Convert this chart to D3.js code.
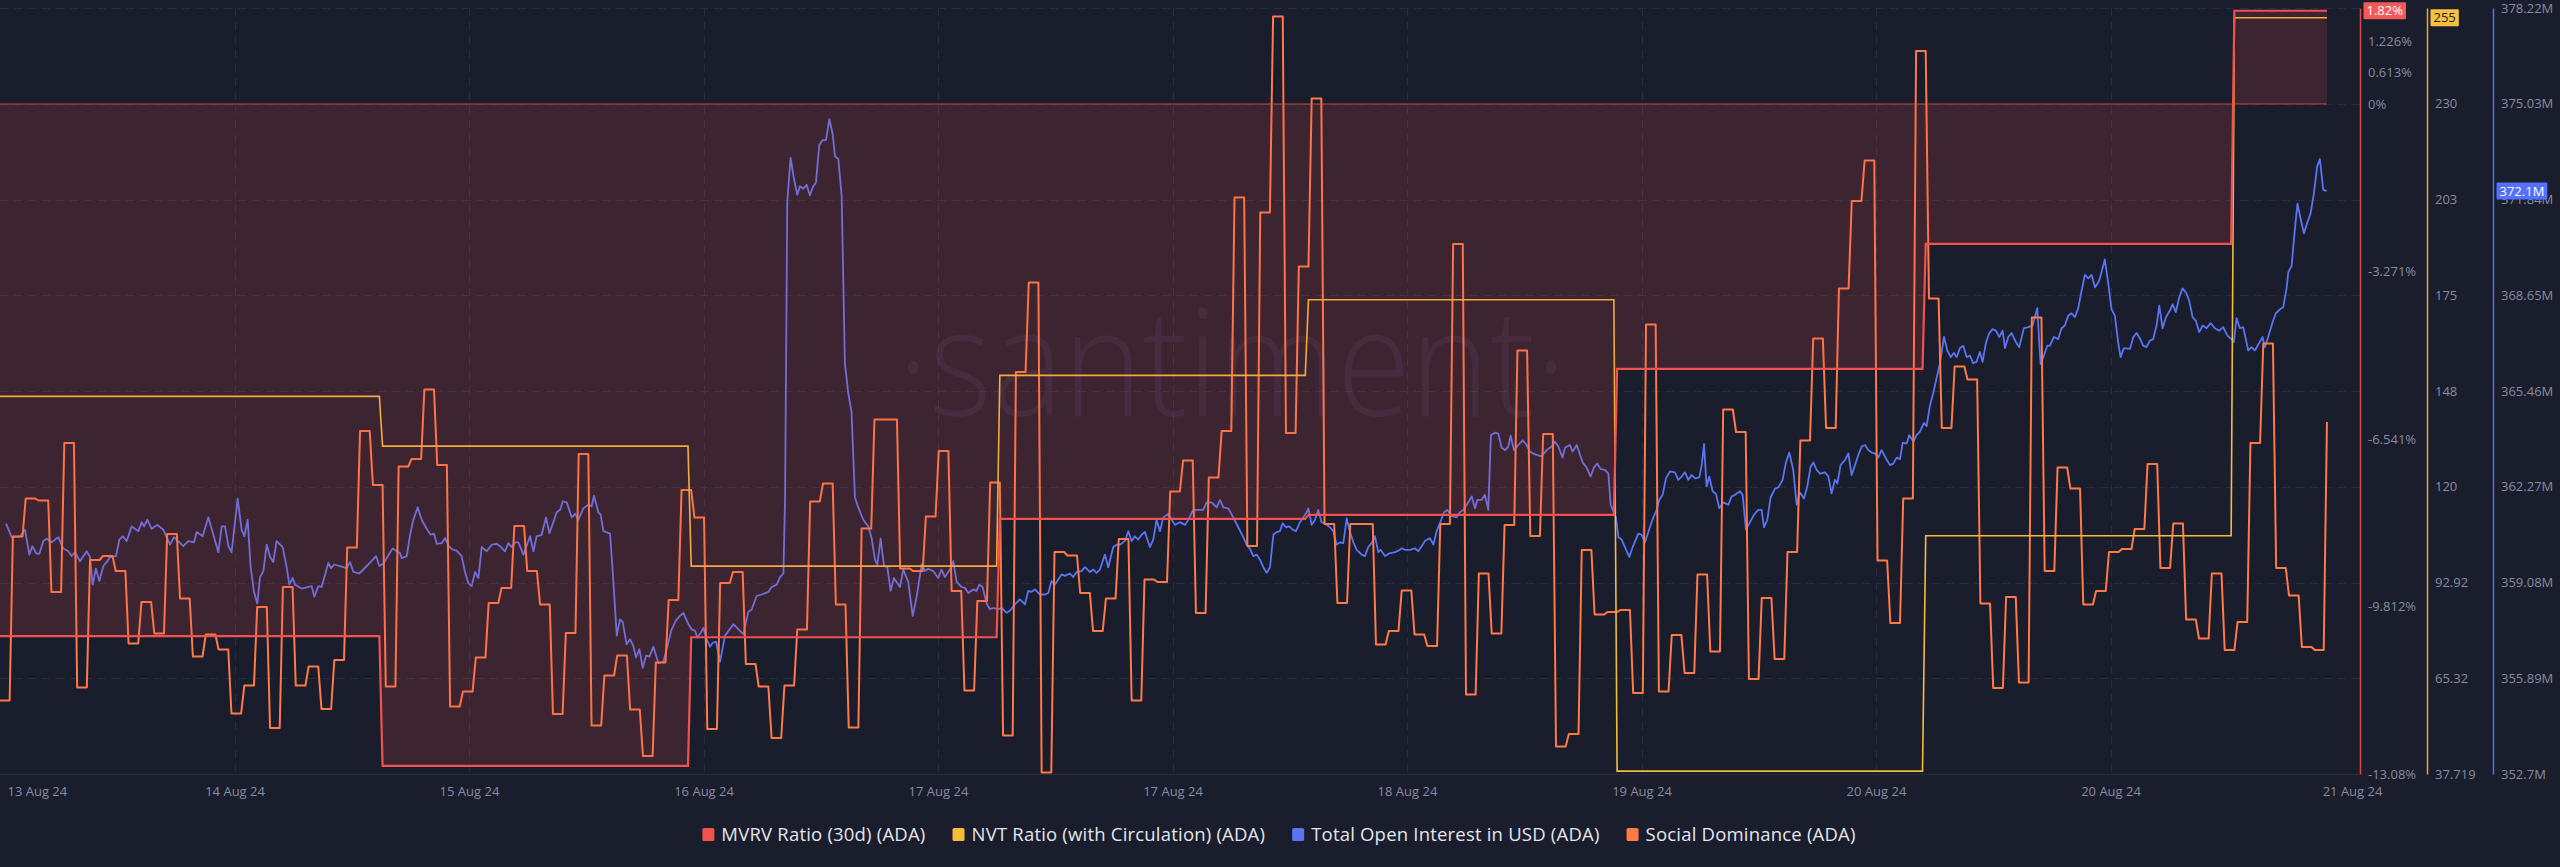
<!DOCTYPE html>
<html><head><meta charset="utf-8">
<script src="https://cdn.jsdelivr.net/npm/d3@7"></script>
<style>
html,body{margin:0;padding:0;background:#1a1d2c;}
svg{display:block;font-family:"Open Sans",sans-serif;}
</style></head><body>
<svg id="chart" width="2560" height="867"></svg>
<script>
// ---------------- DATA ----------------
const xTickLabels = ["13 Aug 24","14 Aug 24","15 Aug 24","16 Aug 24","17 Aug 24","17 Aug 24","18 Aug 24","19 Aug 24","20 Aug 24","20 Aug 24","21 Aug 24"];
const xTickHours = [0, 18.24, 36.47, 54.71, 72.94, 91.18, 109.41, 127.65, 145.88, 164.12, 182.9];
const endHour = 180.95;

// daily series (start hour of each day segment)
const dayStartHours = [0, 29.75, 53.75, 77.75, 101.75, 125.75, 149.75, 173.75];
const mvrvValues = [-10.39, -12.92, -10.41, -8.10, -8.02, -5.17, -2.73, 1.82];
const nvtValues = [146.58, 132.22, 97.64, 152.61, 174.41, 38.56, 106.41, 255.7];

// hourly social dominance (%), one value per hour from hour 0
const socialValues = [
0.247,0.575,0.651,0.647,0.464,0.762,0.273,0.528,0.536,0.506,
0.361,0.444,0.381,0.580,0.451,0.335,0.379,0.349,0.221,0.277,
0.434,0.192,0.474,0.277,0.315,0.230,0.328,0.553,0.786,0.678,
0.275,0.715,0.730,0.869,0.718,0.235,0.265,0.333,0.442,0.472,
0.596,0.506,0.439,0.220,0.382,0.740,0.197,0.297,0.337,0.229,
0.136,0.323,0.448,0.668,0.613,0.190,0.482,0.504,0.320,0.275,
0.172,0.277,0.389,0.645,0.681,0.439,0.193,0.591,0.809,0.809,
0.511,0.506,0.615,0.746,0.466,0.267,0.446,0.683,0.177,0.904,
1.083,0.103,0.544,0.537,0.462,0.386,0.451,0.570,0.247,0.489,
0.484,0.665,0.727,0.422,0.693,0.786,1.253,0.556,1.223,1.615,
0.782,1.115,1.451,0.600,0.442,0.600,0.600,0.359,0.386,0.467,
0.379,0.356,0.600,1.160,0.259,0.501,0.381,0.598,0.947,0.576,
0.780,0.155,0.180,0.548,0.419,0.424,0.428,0.262,0.999,0.265,
0.378,0.302,0.499,0.345,0.829,0.784,0.290,0.452,0.330,0.544,
0.767,0.971,0.792,1.071,1.246,1.327,0.527,0.402,0.651,1.546,
1.051,0.792,0.915,0.889,0.441,0.272,0.454,0.283,1.013,0.506,
0.713,0.671,0.439,0.466,0.544,0.550,0.590,0.720,0.512,0.601,
0.409,0.371,0.501,0.348,0.404,0.762,0.961,0.512,0.457,0.354,
0.348,0.804];

// total open interest (USD millions)
const oiHours = [
0.47,0.91,1.56,1.94,2.28,2.51,2.85,3.06,3.37,3.63,4.02,4.54,4.92,5.31,5.57,5.83,6.22,6.74,7.00,7.21,
7.46,7.72,8.04,8.35,8.55,9.02,9.28,9.54,9.85,10.24,10.76,11.02,11.20,11.46,11.79,12.23,12.70,13.22,13.53,14.26,
14.64,15.09,15.29,15.76,16.20,16.98,17.24,17.50,17.76,18.01,18.48,18.79,19.00,19.26,19.49,19.75,20.01,20.22,20.48,20.74,
21.00,21.25,21.51,21.98,22.29,22.50,22.76,22.94,23.46,24.24,24.44,24.75,25.01,25.53,25.74,26.00,26.96,27.22,27.48,27.94,
28.64,29.24,29.50,29.81,30.53,31.10,31.24,31.63,31.89,32.14,32.48,32.79,33.18,33.49,33.75,33.96,34.35,34.61,34.94,35.25,
35.51,35.90,36.16,36.42,36.68,36.94,37.20,37.46,37.85,38.24,38.62,38.88,39.27,39.53,39.79,40.05,40.31,40.70,41.22,41.48,
41.73,42.12,42.46,42.72,43.03,43.29,43.55,43.76,44.07,44.46,44.72,44.97,45.36,45.75,46.01,46.19,46.53,46.71,46.92,47.44,
47.70,47.96,48.21,48.42,48.73,48.99,49.25,49.46,49.72,49.98,50.24,50.50,50.81,51.20,51.58,51.84,52.23,52.57,52.88,53.14,
53.53,53.79,54.05,54.23,54.49,54.70,54.95,55.21,55.42,55.68,55.99,56.38,57.03,57.42,57.81,58.19,58.45,58.84,59.23,59.75,
60.01,60.40,60.66,60.92,61.05,61.22,61.48,61.74,62.00,62.21,62.46,62.72,62.98,63.24,63.45,63.71,63.97,64.23,64.49,64.75,
64.93,65.19,65.45,65.70,65.96,66.22,66.48,66.74,67.13,67.52,67.78,68.04,68.22,68.48,68.74,69.00,69.26,69.51,69.98,70.24,
70.63,70.97,71.28,71.67,71.93,72.18,72.57,72.96,73.22,73.48,73.87,74.13,74.39,74.78,75.04,75.30,75.68,75.94,76.15,76.41,
76.72,76.98,77.24,77.63,77.89,78.28,78.53,78.92,79.31,79.70,79.96,80.22,80.48,80.87,81.26,81.52,81.77,82.03,82.29,82.55,
82.81,83.20,83.46,83.72,84.11,84.37,84.76,85.02,85.27,85.53,85.92,86.18,86.57,86.83,87.09,87.48,87.74,88.00,88.25,88.51,
88.77,89.03,89.42,89.68,89.94,90.20,90.46,90.85,91.11,91.37,91.75,92.15,92.41,92.79,93.18,93.57,93.83,94.22,94.61,94.87,
95.13,95.52,95.90,96.29,96.68,96.94,97.20,97.46,97.72,97.98,98.24,98.50,98.76,99.02,99.27,99.53,99.74,100.00,100.26,100.52,
100.78,101.09,101.35,101.61,101.74,102.00,102.26,102.51,102.77,103.03,103.42,103.68,103.94,104.20,104.46,104.72,104.93,105.24,105.50,105.88,
106.14,106.40,106.66,106.92,107.18,107.36,107.70,108.09,108.48,108.74,109.00,109.25,109.64,110.03,110.29,110.55,110.81,111.20,111.46,111.72,
112.03,112.29,112.55,112.88,113.27,113.53,113.79,114.18,114.44,114.70,114.88,115.22,115.47,115.73,115.94,116.25,116.51,116.77,117.03,117.29,
117.47,117.73,118.07,118.40,118.71,118.97,119.23,119.49,119.88,120.27,120.66,120.92,121.18,121.51,121.70,122.08,122.29,122.61,122.81,123.07,
123.38,123.69,123.95,124.21,124.47,124.81,125.07,125.25,125.46,125.66,125.85,126.10,126.36,126.70,126.96,127.40,127.66,127.92,128.26,128.57,
128.83,129.03,129.29,129.55,129.86,130.25,130.51,130.77,131.03,131.29,131.55,131.81,132.14,132.33,132.51,132.71,132.92,133.18,133.44,133.70,
134.01,134.40,134.66,134.92,135.31,135.51,135.77,136.08,136.40,136.73,136.99,137.17,137.43,137.69,138.03,138.29,138.62,138.88,139.14,139.45,
139.71,139.97,140.28,140.54,140.80,141.01,141.27,141.53,141.92,142.18,142.43,142.69,142.88,143.13,143.47,143.73,143.99,144.25,144.51,144.77,
145.03,145.29,145.55,145.80,146.06,146.32,146.66,146.97,147.23,147.49,147.75,147.96,148.27,148.47,148.79,149.04,149.30,149.61,149.82,150.08,
150.34,150.60,150.86,151.17,151.43,151.69,151.95,152.15,152.41,152.67,152.93,153.19,153.44,153.70,153.96,154.17,154.43,154.69,154.95,155.21,
155.47,155.73,155.91,156.17,156.43,156.76,157.02,157.38,157.72,158.06,158.42,158.68,158.94,159.20,159.41,159.72,160.05,160.31,160.57,160.83,
161.09,161.35,161.61,161.87,162.13,162.39,162.65,162.91,163.24,163.68,163.94,164.20,164.46,164.72,164.90,165.16,165.63,165.89,166.15,166.40,
166.66,166.92,167.18,167.44,167.70,167.91,168.17,168.43,168.74,168.95,169.20,169.46,169.72,169.98,170.24,170.50,170.76,171.02,171.28,171.59,
171.90,172.24,172.57,172.88,173.20,173.53,173.71,173.92,174.18,174.44,174.83,175.09,175.35,175.68,175.94,176.12,176.38,176.72,176.98,177.29,
177.55,177.81,177.94,178.20,178.46,178.66,178.90,179.16,179.42,179.67,179.93,180.19,180.40,180.66,180.92];
const oiValues = [
361.04,360.59,360.62,360.84,360.01,360.29,360.04,360.04,360.46,360.54,360.42,360.59,360.21,360.12,359.96,360.09,359.79,360.12,359.93,359.01,
359.54,359.13,359.63,359.79,359.93,359.96,360.51,360.62,360.46,360.95,360.79,361.09,360.95,361.17,360.87,361.00,360.84,360.34,360.59,360.29,
360.46,360.42,360.76,360.62,361.25,360.09,360.95,360.95,360.29,360.09,361.87,360.84,360.62,361.17,359.59,358.77,358.38,359.26,359.46,360.34,
359.93,359.76,360.46,360.26,359.59,359.01,359.23,359.01,358.88,358.96,358.60,358.96,358.93,359.73,359.56,359.68,359.56,359.76,359.43,359.38,
359.68,359.96,359.63,359.71,360.21,360.06,359.89,359.96,360.67,361.17,361.58,361.17,360.87,360.67,360.71,360.37,360.39,360.56,360.26,360.17,
360.14,359.96,359.43,359.06,358.96,359.43,359.23,360.26,360.12,360.34,360.37,360.29,360.12,360.39,360.26,360.42,360.42,360.01,360.62,360.12,
360.62,360.67,361.25,360.72,361.09,361.42,361.50,361.78,361.75,361.25,361.37,361.17,361.55,361.67,361.62,361.97,361.42,361.34,360.79,360.71,
359.10,357.31,357.85,357.77,357.02,357.19,356.97,356.58,356.86,356.24,356.64,356.61,356.94,356.39,356.44,356.86,357.52,357.82,357.97,358.07,
357.69,357.52,357.47,357.24,357.41,357.57,357.19,356.94,357.07,357.11,356.44,357.31,357.69,357.52,357.36,358.10,358.18,358.63,358.68,358.77,
358.93,359.01,359.26,359.38,361.92,371.78,373.23,372.53,372.00,372.28,372.20,372.33,371.98,372.28,372.40,373.66,373.82,373.82,374.52,374.02,
373.28,373.19,371.95,366.39,365.40,364.74,361.92,361.58,361.17,360.95,360.56,359.84,359.68,360.54,359.63,359.59,358.80,359.23,358.93,359.51,
359.10,357.97,358.60,359.68,359.46,359.54,359.46,359.23,359.51,359.26,359.51,359.79,359.10,358.93,358.90,358.73,358.85,358.80,359.01,358.93,
358.38,358.19,358.23,358.19,358.23,358.07,358.14,358.35,358.52,358.35,358.80,358.77,358.85,358.68,358.68,358.73,359.13,359.01,359.18,359.35,
359.30,359.38,359.26,359.43,359.46,359.59,359.43,359.51,359.40,359.51,360.01,359.59,360.26,360.34,360.34,360.46,360.79,360.46,360.62,360.51,
360.67,360.76,360.26,360.51,361.17,360.79,361.25,361.37,361.17,361.00,361.09,361.00,361.17,361.50,361.50,361.50,361.75,361.75,361.58,361.83,
361.58,361.55,361.25,360.92,360.59,360.34,360.21,359.96,360.01,359.84,359.59,359.40,359.59,360.67,360.76,360.79,361.05,360.92,360.95,360.84,
360.79,361.09,361.25,361.42,361.55,361.00,361.17,361.50,361.09,361.05,360.92,360.79,360.34,360.42,360.39,361.22,360.84,360.42,360.17,360.01,
359.96,360.26,360.39,360.62,360.09,360.17,359.96,360.06,360.09,360.14,360.22,360.17,360.17,360.22,360.12,360.29,360.46,360.56,360.34,360.79,
361.12,361.42,361.50,361.29,361.25,361.42,361.50,361.75,361.95,361.55,361.83,361.83,362.00,361.50,363.99,364.07,364.04,363.57,363.49,363.61,
363.97,363.49,363.66,363.82,363.66,363.44,363.38,363.33,363.28,363.49,363.61,363.77,363.61,363.24,363.57,363.66,363.44,363.66,363.41,363.08,
362.91,362.61,362.91,363.04,362.86,362.83,362.71,361.67,361.45,361.25,360.59,360.51,360.26,359.93,360.26,360.71,360.67,360.42,360.87,361.25,
361.50,361.83,362.00,362.55,362.78,362.75,362.50,362.61,362.75,362.50,362.66,362.55,362.58,362.99,363.69,362.28,362.61,362.12,362.03,361.55,
361.75,361.67,361.95,362.00,362.12,362.00,360.84,361.09,361.34,361.50,361.50,360.92,361.17,361.92,362.21,362.25,362.50,363.08,363.41,362.83,
361.67,362.08,361.88,362.28,362.94,363.08,362.83,362.71,362.75,362.61,362.05,362.50,362.38,362.99,363.16,363.38,362.66,362.99,363.33,363.61,
363.66,363.49,363.41,363.38,363.24,363.49,363.21,362.99,363.04,363.24,363.19,363.74,363.71,363.99,363.77,363.99,364.11,364.40,364.29,364.98,
365.40,365.90,366.39,367.26,366.81,366.59,366.73,366.59,366.89,366.97,366.59,366.64,366.39,366.43,366.76,366.43,367.06,367.39,367.52,367.47,
367.26,367.47,366.89,367.26,367.39,367.09,366.92,367.55,367.59,367.64,368.22,366.36,366.64,366.97,366.97,367.26,367.19,367.55,367.64,367.97,
368.05,367.92,368.22,368.80,369.33,369.21,369.33,368.91,369.13,369.84,369.05,368.18,367.97,367.06,366.59,366.89,366.86,367.26,367.39,367.22,
366.97,366.92,367.14,367.19,367.64,368.30,367.55,367.92,368.14,368.35,368.09,368.58,368.88,368.75,368.47,367.92,367.80,367.42,367.64,367.55,
367.72,367.55,367.47,367.59,367.31,367.19,367.09,367.89,367.55,367.59,366.81,366.92,366.81,367.06,367.26,366.92,367.26,367.75,368.05,368.18,
368.25,368.88,369.41,369.63,370.87,371.70,371.20,370.71,371.07,371.37,372.03,372.94,373.19,372.17,372.12];

// axis ticks (the top MVRV and NVT ticks sit under the last-value badges, so they carry no label)
const mvrvTicks = [1.839, 1.226, 0.613, 0, -3.271, -6.541, -9.812, -13.08];
const mvrvTickLabels = ["","1.226%","0.613%","0%","-3.271%","-6.541%","-9.812%","-13.08%"];
const nvtTicks = [258.52, 230.92, 203.32, 175.72, 148.12, 120.52, 92.92, 65.32, 37.719];
const nvtTickLabels = ["","230","203","175","148","120","92.92","65.32","37.719"];
const oiTicks = [378.22, 375.03, 371.84, 368.65, 365.46, 362.27, 359.08, 355.89, 352.7];
const oiTickLabels = ["378.22M","375.03M","371.84M","368.65M","365.46M","362.27M","359.08M","355.89M","352.7M"];

const legendNames = ["MVRV Ratio (30d) (ADA)","NVT Ratio (with Circulation) (ADA)","Total Open Interest in USD (ADA)","Social Dominance (ADA)"];
const seriesColors = ["#f0524f","#f5bb3a","#5a74f2","#ff7a45"];
const badgeLabels = ["1.82%","255","372.1M"];

// ---------------- CHART ----------------
(function () {
const svg = d3.select("#chart");
const plotTop = 8, plotBottom = 774, plotRight = 2360;
const axisX = [2360, 2427, 2493];

const x = d3.scaleLinear().domain([0, 183.52]).range([0, plotRight]);
const yMvrv = d3.scaleLinear().domain([-13.08, 1.874]).range([plotBottom, plotTop]);
const yNvt = d3.scaleLinear().domain([37.719, 258.52]).range([plotBottom, plotTop]);
const yOi = d3.scaleLinear().domain([352.7, 378.22]).range([plotBottom, plotTop]);
const ySoc = d3.scaleLinear().domain([0.1, 1.632]).range([plotBottom, plotTop]);

// hold each value until the next sample (15-min resolution render)
function held(times, values, end) {
  const pts = [];
  for (let i = 0; i < times.length; i++) {
    pts.push([times[i], values[i]]);
    const nxt = i + 1 < times.length ? times[i + 1] - 0.25 : end;
    if (nxt > times[i]) pts.push([nxt, values[i]]);
  }
  return pts;
}

svg.append("rect").attr("width", 2560).attr("height", 867).attr("fill", "#1a1d2c");

// grid
const grid = svg.append("g");
grid.selectAll("line.h").data(oiTicks).join("line")
  .attr("x1", 0).attr("x2", plotRight)
  .attr("y1", d => Math.round(yOi(d)) + 0.5).attr("y2", d => Math.round(yOi(d)) + 0.5)
  .attr("stroke", "#282c3e").attr("stroke-width", 1).attr("stroke-dasharray", "8 6");
grid.selectAll("line.v").data(xTickHours.slice(1, 10)).join("line")
  .attr("x1", d => Math.round(x(d)) + 0.5).attr("x2", d => Math.round(x(d)) + 0.5)
  .attr("y1", plotTop).attr("y2", plotBottom)
  .attr("stroke", "#282c3e").attr("stroke-width", 1).attr("stroke-dasharray", "8 6");
svg.append("line").attr("x1", 0).attr("x2", plotRight).attr("y1", plotBottom + 0.5).attr("y2", plotBottom + 0.5)
  .attr("stroke", "#2a2e40").attr("stroke-width", 1);

// watermark
svg.append("text").attr("x", 1232).attr("y", 416).attr("text-anchor", "middle")
  .attr("font-size", 150).attr("font-weight", 300).attr("fill", "rgba(140,110,180,0.11)")
  .attr("textLength", 670).attr("lengthAdjust", "spacingAndGlyphs")
  .text("·santiment·");

// open interest
const oiPts = oiHours.map((h, i) => [h, oiValues[i]]);
svg.append("path").datum(oiPts)
  .attr("d", d3.line().x(d => x(d[0])).y(d => yOi(d[1])))
  .attr("fill", "none").attr("stroke", seriesColors[2]).attr("stroke-width", 1.8).attr("stroke-linejoin", "round");

// social dominance
const socHours = socialValues.map((v, i) => i === socialValues.length - 1 ? endHour : i);
svg.append("path").datum(held(socHours, socialValues, endHour))
  .attr("d", d3.line().x(d => x(d[0])).y(d => ySoc(d[1])))
  .attr("fill", "none").attr("stroke", seriesColors[3]).attr("stroke-width", 2).attr("stroke-linejoin", "round");

// NVT
svg.append("path").datum(held(dayStartHours, nvtValues, endHour))
  .attr("d", d3.line().x(d => x(d[0])).y(d => yNvt(d[1])))
  .attr("fill", "none").attr("stroke", seriesColors[1]).attr("stroke-width", 1.6);

// MVRV area (on top of lines) + baseline + line
const mvrvPts = held(dayStartHours, mvrvValues, endHour);
svg.append("path").datum(mvrvPts)
  .attr("d", d3.area().x(d => x(d[0])).y0(yMvrv(0)).y1(d => yMvrv(d[1])))
  .attr("fill", "#f0524f").attr("fill-opacity", 0.16);
svg.append("line").attr("x1", x(0)).attr("x2", x(endHour))
  .attr("y1", yMvrv(0)).attr("y2", yMvrv(0))
  .attr("stroke", "#f0524f").attr("stroke-opacity", 0.75).attr("stroke-width", 1);
svg.append("path").datum(mvrvPts)
  .attr("d", d3.line().x(d => x(d[0])).y(d => yMvrv(d[1])))
  .attr("fill", "none").attr("stroke", seriesColors[0]).attr("stroke-width", 2.2);

// x axis
const xAxis = svg.append("g").attr("transform", `translate(0,${plotBottom})`)
  .call(d3.axisBottom(x).tickValues(xTickHours).tickFormat((d, i) => xTickLabels[i]).tickSize(0).tickPadding(13));
xAxis.select(".domain").remove();
xAxis.selectAll("text").attr("fill", "#878ca2").attr("font-size", 13).attr("font-family", "Open Sans");
xAxis.selectAll(".tick").filter((d, i) => i === 0).select("text").attr("text-anchor", "start").attr("x", 7);

// right axes
const axisDefs = [
  {scale: yMvrv, ticks: mvrvTicks, labels: mvrvTickLabels, color: "#d84a48"},
  {scale: yNvt, ticks: nvtTicks, labels: nvtTickLabels, color: "#e8ab2c"},
  {scale: yOi, ticks: oiTicks, labels: oiTickLabels, color: "#5a6fe0"}
];
axisDefs.forEach((a, k) => {
  const g = svg.append("g").attr("transform", `translate(${axisX[k]},0)`)
    .call(d3.axisRight(a.scale).tickValues(a.ticks).tickFormat((d, i) => a.labels[i]).tickSize(0).tickSizeOuter(0).tickPadding(8));
  g.select(".domain").attr("stroke", a.color).attr("stroke-width", 1.5);
  g.selectAll("text").attr("fill", "#878ca2").attr("font-size", 13).attr("font-family", "Open Sans");
});

// last-value badges
const badgeDefs = [
  {y: yMvrv(mvrvValues[mvrvValues.length - 1]), fill: "#f25a5a", text: "#ffffff"},
  {y: yNvt(nvtValues[nvtValues.length - 1]), fill: "#f8c23e", text: "#1a1d2c"},
  {y: yOi(oiValues[oiValues.length - 1]), fill: "#5470ff", text: "#ffffff"}
];
badgeDefs.forEach((b, k) => {
  const g = svg.append("g").attr("transform", `translate(${axisX[k] + 3.5},${b.y})`);
  const t = g.append("text").attr("x", 3).attr("y", 0).attr("dy", "0.35em")
    .attr("font-size", 13).attr("font-family", "Open Sans").attr("fill", b.text).text(badgeLabels[k]);
  const w = t.node().getComputedTextLength() + 6;
  g.insert("rect", "text").attr("x", 0).attr("y", -8.5).attr("width", w).attr("height", 17)
    .attr("rx", 1).attr("fill", b.fill);
});

// legend
const leg = svg.append("g");
let cx = 0;
legendNames.forEach((name, i) => {
  const g = leg.append("g");
  g.append("rect").attr("x", 0).attr("y", -6).attr("width", 12).attr("height", 13).attr("rx", 1.5).attr("fill", seriesColors[i]);
  const t = g.append("text").attr("x", 19).attr("y", 0.5).attr("dy", "0.35em")
    .attr("font-size", 18.5).attr("letter-spacing", 0.2).attr("font-family", "Open Sans").attr("fill", "#e4e6ee").text(name);
  const w = 19 + t.node().getComputedTextLength();
  g.attr("transform", `translate(${cx},0)`);
  cx += w + 27;
});
const totalW = cx - 27;
leg.attr("transform", `translate(${1279 - totalW / 2},834)`);
})();
</script></body></html>
